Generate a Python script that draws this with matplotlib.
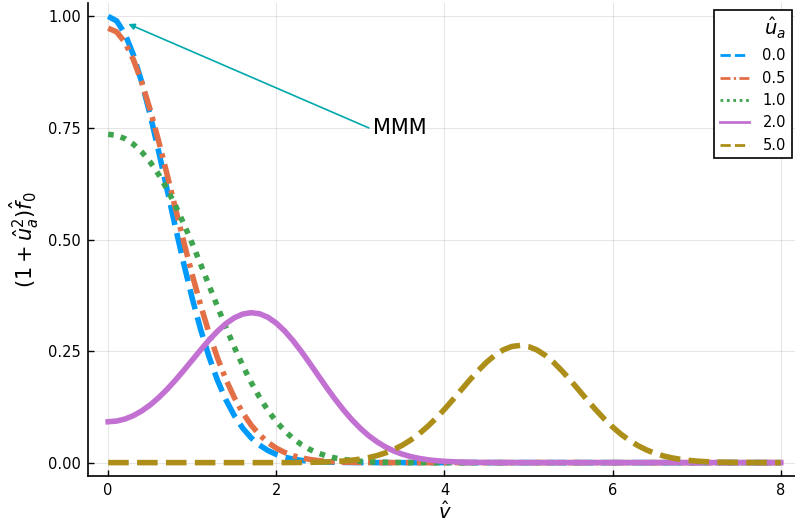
import matplotlib
matplotlib.use("Agg")
from matplotlib import pyplot as plt
from matplotlib.ticker import FormatStrFormatter

# sample points along v-hat, step 0.1 from 0 to 8
v_hat = [0.0, 0.1, 0.2, 0.3, 0.4, 0.5, 0.6, 0.7, 0.8, 0.9,
         1.0, 1.1, 1.2, 1.3, 1.4, 1.5, 1.6, 1.7, 1.8, 1.9,
         2.0, 2.1, 2.2, 2.3, 2.4, 2.5, 2.6, 2.7, 2.8, 2.9,
         3.0, 3.1, 3.2, 3.3, 3.4, 3.5, 3.6, 3.7, 3.8, 3.9,
         4.0, 4.1, 4.2, 4.3, 4.4, 4.5, 4.6, 4.7, 4.8, 4.9,
         5.0, 5.1, 5.2, 5.3, 5.4, 5.5, 5.6, 5.7, 5.8, 5.9,
         6.0, 6.1, 6.2, 6.3, 6.4, 6.5, 6.6, 6.7, 6.8, 6.9,
         7.0, 7.1, 7.2, 7.3, 7.4, 7.5, 7.6, 7.7, 7.8, 7.9,
         8.0]

u_labels = ["0.0", "0.5", "1.0", "2.0", "5.0"]

f_u00 = [1.0, 0.9900, 0.9608, 0.9139, 0.8521, 0.7788, 0.6977, 0.6126, 0.5273, 0.4449,
         0.3679, 0.2982, 0.2369, 0.1845, 0.1409, 0.1054, 0.0773, 0.0556, 0.0392, 0.0271,
         0.0183, 0.0122, 0.0079, 0.0050, 0.0032, 0.0019, 0.0012, 0.0007, 0.0004, 0.0002,
         0.0001, 0.0001] + [0.0] * 49
f_u05 = [0.9735, 0.9654, 0.9416, 0.9031, 0.8519, 0.7902, 0.7207, 0.6463, 0.5699, 0.4939,
         0.4209, 0.3525, 0.2901, 0.2347, 0.1865, 0.1457, 0.1117, 0.0842, 0.0623, 0.0453,
         0.0323, 0.0227, 0.0156, 0.0105, 0.0070, 0.0045, 0.0029, 0.0018, 0.0011, 0.0007,
         0.0004, 0.0002, 0.0001, 0.0001] + [0.0] * 47
f_u10 = [0.7358, 0.7333, 0.7259, 0.7135, 0.6960, 0.6734, 0.6457, 0.6131, 0.5760, 0.5350,
         0.4908, 0.4445, 0.3970, 0.3496, 0.3032, 0.2590, 0.2177, 0.1800, 0.1464, 0.1170,
         0.0919, 0.0710, 0.0538, 0.0401, 0.0293, 0.0211, 0.0149, 0.0103, 0.0070, 0.0047,
         0.0031, 0.0020, 0.0012, 0.0008, 0.0005, 0.0003, 0.0002, 0.0001, 0.0001] + [0.0] * 42
f_u20 = [0.0916, 0.0931, 0.0977, 0.1053, 0.1159, 0.1293, 0.1455, 0.1641, 0.1848, 0.2069,
         0.2298, 0.2527, 0.2746, 0.2945, 0.3115, 0.3245, 0.3329, 0.3360, 0.3336, 0.3257,
         0.3125, 0.2947, 0.2730, 0.2484, 0.2219, 0.1947, 0.1677, 0.1418, 0.1177, 0.0959,
         0.0766, 0.0601, 0.0463, 0.0349, 0.0259, 0.0188, 0.0134, 0.0094, 0.0064, 0.0043,
         0.0029, 0.0019, 0.0012, 0.0007, 0.0004, 0.0003, 0.0002, 0.0001, 0.0001] + [0.0] * 32
f_u50 = [0.0] * 20 + [
         0.0001, 0.0001, 0.0002, 0.0004, 0.0006, 0.0010, 0.0016, 0.0024, 0.0037, 0.0054,
         0.0079, 0.0113, 0.0159, 0.0219, 0.0296, 0.0391, 0.0509, 0.0648, 0.0811, 0.0994,
         0.1196, 0.1411, 0.1632, 0.1852, 0.2061, 0.2250, 0.2408, 0.2528, 0.2602, 0.2627,
         0.2600, 0.2524, 0.2402, 0.2242, 0.2051, 0.1841, 0.1620, 0.1397, 0.1182, 0.0980,
         0.0797, 0.0635, 0.0497, 0.0381, 0.0286, 0.0211, 0.0152, 0.0108, 0.0075, 0.0051,
         0.0034, 0.0022, 0.0014, 0.0009, 0.0006, 0.0003, 0.0002, 0.0001, 0.0001, 0.0,
         0.0]

series = [f_u00, f_u05, f_u10, f_u20, f_u50]
colors = ["#009AFA", "#E36F47", "#3EA44E", "#C271D2", "#AC8E18"]
dashes = [(3.7, 1.5), (3.6, 1.2, 0.8, 1.2), (1.0, 1.3), None, (3.7, 1.5)]

fig = plt.figure(figsize=(7.95, 5.22), dpi=100)
ax = fig.add_axes([88 / 795, 46 / 522, 713 / 795, 473 / 522])

for vals, col, ds, lab in zip(series, colors, dashes, u_labels):
    line, = ax.plot(v_hat, vals, color=col, lw=4, label=lab,
                    solid_joinstyle="round", dash_joinstyle="round")
    if ds is not None:
        line.set_dashes(ds)

# annotation arrow
ax.annotate("", xy=(0.24, 0.983), xytext=(3.1, 0.75),
            arrowprops=dict(arrowstyle="-|>", color="#00A9AD", lw=1.2,
                            mutation_scale=9, shrinkA=0, shrinkB=0))
ax.text(3.15, 0.75, "MMM", fontsize=15, ha="left", va="center")

ax.set_xlim(-0.24, 8.24)
ax.set_ylim(-0.03, 1.03)
ax.set_xticks([0, 2, 4, 6, 8])
ax.set_yticks([0.0, 0.25, 0.5, 0.75, 1.0])
ax.yaxis.set_major_formatter(FormatStrFormatter("%.2f"))
ax.tick_params(direction="in", length=4, width=1, labelsize=10.5, pad=5)
ax.grid(True, color="black", alpha=0.1, lw=0.8)
ax.set_axisbelow(True)
for side in ["top", "right"]:
    ax.spines[side].set_visible(False)
for side in ["left", "bottom"]:
    ax.spines[side].set_linewidth(1.2)

ax.set_xlabel(r"$\hat{v}$", fontsize=14, labelpad=2)
ax.set_ylabel(r"$(1+\hat{u}_a^2)\hat{f}_0$", fontsize=15, labelpad=5)

leg = ax.legend(title=r"$\hat{u}_a$", loc="upper right", bbox_to_anchor=(0.987, 0.985),
                borderaxespad=0, fontsize=10.5, title_fontsize=14, fancybox=False,
                framealpha=1, edgecolor="black", handlelength=2.0, handletextpad=0.9,
                borderpad=0.4, labelspacing=0.5)
leg.get_frame().set_linewidth(1.2)
leg._legend_box.align = "right"
for hl in leg.get_lines():
    hl.set_linewidth(2)

fig.savefig("out.png", dpi=100)
